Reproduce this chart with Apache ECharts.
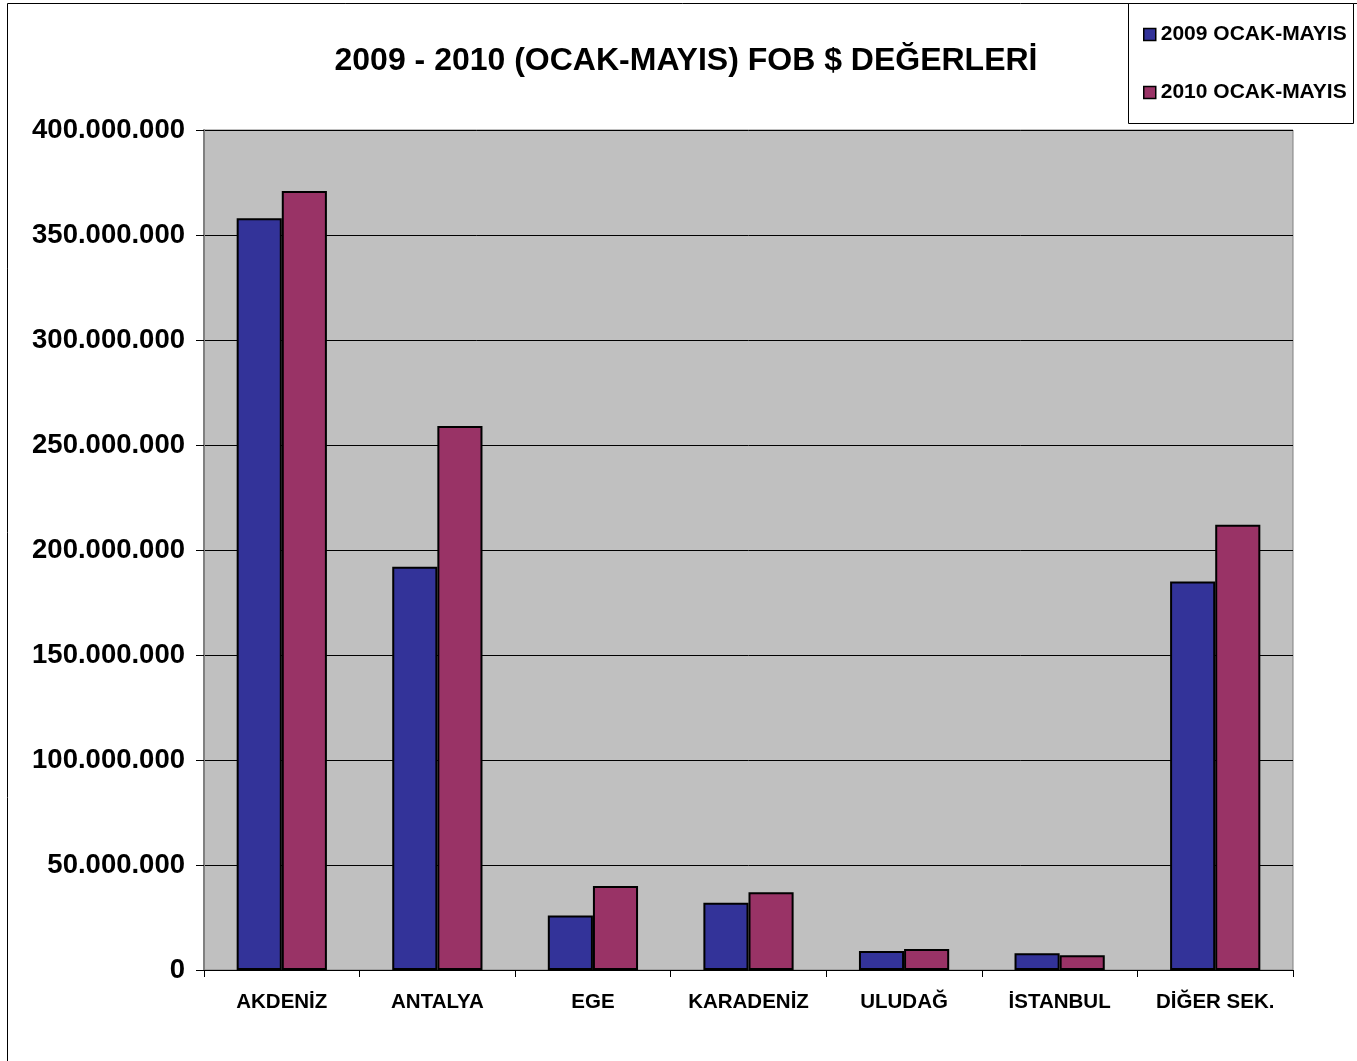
<!DOCTYPE html>
<html><head><meta charset="utf-8">
<script src="https://cdn.jsdelivr.net/npm/echarts@6/dist/echarts.min.js"></script>
<style>html,body{margin:0;padding:0;background:#fff}#c{width:1357px;height:1061px}</style>
</head><body><div id="c"></div>
<script>
const categories = ['AKDENİZ','ANTALYA','EGE','KARADENİZ','ULUDAĞ','İSTANBUL','DİĞER SEK.'];
const series2009 = [358000000,192000000,26000000,32000000,9000000,8000000,185000000];
const series2010 = [371000000,259000000,40000000,37000000,10000000,7000000,212000000];
const seriesNames = ['2009 OCAK-MAYIS','2010 OCAK-MAYIS'];
const titleText = '2009 - 2010 (OCAK-MAYIS) FOB $ DEĞERLERİ';

const chart = echarts.init(document.getElementById('c'));
const fmt = v => String(v).replace(/\B(?=(\d{3})+(?!\d))/g, '.');
const F = 'Liberation Sans, Arial, sans-serif';
chart.setOption({
  animation:false,
  backgroundColor:'#fff',
  title:{text:titleText,left:681,textAlign:'center',top:40,
    textStyle:{fontFamily:F,fontWeight:'bold',fontSize:32,color:'#000'}},
  legend:{orient:'vertical',left:1138,top:19,itemWidth:12,itemHeight:12,itemGap:37,
    icon:'rect',
    textStyle:{fontFamily:F,fontWeight:'bold',fontSize:21,color:'#000'},
    data:seriesNames.map(n=>({name:n,itemStyle:{borderColor:'#000',borderWidth:1.5}}))},
  graphic:[
    {type:'rect',shape:{x:7.5,y:3.5,width:1360,height:1070},style:{fill:null,stroke:'#000',lineWidth:1},z:-1},
    {type:'rect',shape:{x:1128.5,y:3.5,width:225,height:120},style:{fill:'#fff',stroke:'#000',lineWidth:1},z:-1}
  ],
  grid:{left:204,top:130,width:1089,height:840,backgroundColor:'#C0C0C0',show:true,borderColor:'#808080',borderWidth:1},
  xAxis:{type:'category',data:categories,
    axisLine:{lineStyle:{color:'#000',width:1}},
    axisTick:{show:true,length:7,lineStyle:{color:'#000'}},
    axisLabel:{interval:0,fontFamily:F,fontWeight:'bold',fontSize:20.5,color:'#000',margin:22}},
  yAxis:{type:'value',min:0,max:400000000,interval:50000000,
    axisLine:{show:true,lineStyle:{color:'#808080',width:2}},
    axisTick:{show:true,length:8,lineStyle:{color:'#000'}},
    splitLine:{lineStyle:{color:'#000',width:1}},
    axisLabel:{fontFamily:F,fontWeight:'bold',fontSize:27.5,color:'#000',margin:19,formatter:fmt}},
  series:[
    {name:seriesNames[0],type:'bar',data:series2009,barGap:'0%',barCategoryGap:'42%',
      itemStyle:{color:'#333399',borderColor:'#000',borderWidth:2}},
    {name:seriesNames[1],type:'bar',data:series2010,barGap:'0%',barCategoryGap:'42%',
      itemStyle:{color:'#993366',borderColor:'#000',borderWidth:2}}
  ]
});
</script></body></html>
